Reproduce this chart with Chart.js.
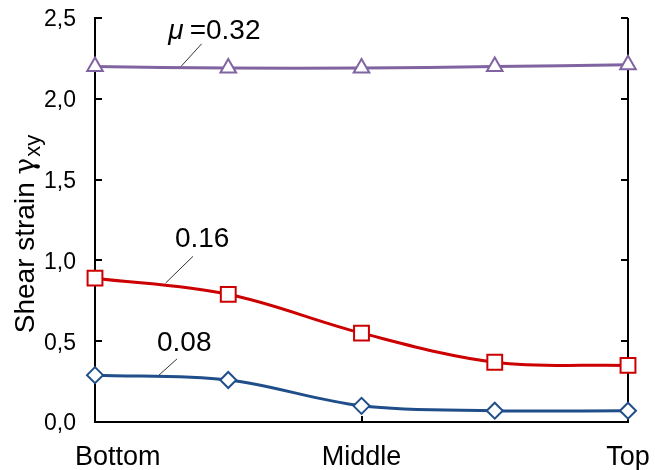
<!DOCTYPE html>
<html>
<head>
<meta charset="utf-8">
<script src="https://cdn.jsdelivr.net/npm/chart.js@4.4.1/dist/chart.umd.min.js"></script>
<style>
html, body { margin: 0; padding: 0; background: #fff; }
</style>
</head>
<body>
<canvas id="chartCortante" width="655" height="470"></canvas>
<script>
// datos
const posiciones = ['Bottom', '', 'Middle', '', 'Top']
const mu032 = [2.20, 2.19, 2.19, 2.20, 2.21]
const mu016 = [0.89, 0.79, 0.55, 0.37, 0.35]
const mu008 = [0.29, 0.26, 0.10, 0.07, 0.07]
const ticksY = [0, 0.5, 1.0, 1.5, 2.0, 2.5]
const etiquetas = ['\u03bc', '0.32', '0.16', '0.08']

const FUENTE = "'Liberation Sans', Arial, sans-serif"

// donde van los rotulos de cada serie (en unidades de los ejes)
const notas = [
    { texto: '=' + etiquetas[1], prefijo: etiquetas[0], x: 0.55, y: 2.37, linea: [0.64, 2.195, 0.80, 2.34] },
    { texto: etiquetas[2], x: 0.60, y: 1.08, linea: [0.53, 0.86, 0.735, 1.025] },
    { texto: etiquetas[3], x: 0.465, y: 0.44, linea: [0.48, 0.29, 0.615, 0.39] }
]

const ejesYMarcas = {
    id: 'ejesYMarcas',
    beforeDatasetsDraw(chart) {
        const { ctx, chartArea, scales } = chart
        ctx.save()
        ctx.strokeStyle = '#000'
        ctx.lineWidth = 2
        // eje derecho
        ctx.beginPath()
        ctx.moveTo(chartArea.right, chartArea.top)
        ctx.lineTo(chartArea.right, chartArea.bottom)
        ctx.stroke()
        // marcas hacia adentro
        ticksY.forEach(v => {
            const y = Math.round(scales.y.getPixelForValue(v))
            ctx.beginPath()
            ctx.moveTo(chartArea.left, y)
            ctx.lineTo(chartArea.left + 7, y)
            ctx.moveTo(chartArea.right, y)
            ctx.lineTo(chartArea.right - 7, y)
            ctx.stroke()
        })
        posiciones.forEach((p, i) => {
            if (!p) return
            const x = Math.round(scales.x.getPixelForValue(i))
            ctx.beginPath()
            ctx.moveTo(x, chartArea.bottom)
            ctx.lineTo(x, chartArea.bottom - 6)
            ctx.stroke()
        })
        // lineas guia de los rotulos
        ctx.strokeStyle = '#333'
        ctx.lineWidth = 1
        notas.forEach(n => {
            ctx.beginPath()
            ctx.moveTo(scales.x.getPixelForValue(n.linea[0]), scales.y.getPixelForValue(n.linea[1]))
            ctx.lineTo(scales.x.getPixelForValue(n.linea[2]), scales.y.getPixelForValue(n.linea[3]))
            ctx.stroke()
        })
        ctx.restore()
    },
    afterDraw(chart) {
        const { ctx, chartArea, scales } = chart
        ctx.save()
        ctx.fillStyle = '#000'

        // etiquetas del eje y
        ctx.font = '23px ' + FUENTE
        ctx.textAlign = 'right'
        ctx.textBaseline = 'middle'
        ticksY.forEach(v => {
            const y = scales.y.getPixelForValue(v)
            ctx.fillText(v.toFixed(1).replace('.', ','), chartArea.left - 19, y + 2)
        })

        ctx.textBaseline = 'alphabetic'
        // etiquetas del eje x
        ctx.font = '27px ' + FUENTE
        posiciones.forEach((p, i) => {
            if (!p) return
            const w = ctx.measureText(p).width
            let x = scales.x.getPixelForValue(i) - w / 2
            if (x < 75) x = 75
            if (x + w > 654) x = 654 - w
            ctx.textAlign = 'left'
            ctx.fillText(p, x, 465)
        })

        // rotulos de las series
        notas.forEach(n => {
            let x = scales.x.getPixelForValue(n.x)
            const y = scales.y.getPixelForValue(n.y)
            ctx.textAlign = 'left'
            if (n.prefijo) {
                ctx.font = 'italic 28px ' + FUENTE
                ctx.fillText(n.prefijo, x, y)
                x += ctx.measureText(n.prefijo).width + 6
            }
            ctx.font = '28px ' + FUENTE
            ctx.fillText(n.texto, x, y)
        })

        // titulo del eje y con subindice
        const titulo = 'Shear strain '
        const gamma = '\u03b3'
        const sub = 'xy'
        ctx.font = '28px ' + FUENTE
        const w1 = ctx.measureText(titulo).width
        ctx.font = "28px 'DejaVu Serif', serif"
        const wg = ctx.measureText(gamma).width
        ctx.font = '22px ' + FUENTE
        const w2 = ctx.measureText(sub).width
        ctx.translate(34, 234)
        ctx.rotate(-Math.PI / 2)
        ctx.textAlign = 'left'
        const x0 = -(w1 + wg + w2 + 1) / 2
        ctx.font = '28px ' + FUENTE
        ctx.fillText(titulo, x0, 0)
        ctx.font = "28px 'DejaVu Serif', serif"
        ctx.fillText(gamma, x0 + w1, 0)
        ctx.font = '22px ' + FUENTE
        ctx.fillText(sub, x0 + w1 + wg + 1, 6)
        ctx.restore()
    }
}

const canvas = document.getElementById('chartCortante')
const context = canvas.getContext('2d')

const chartCortante = new Chart(context, {
    type: 'line',
    data: {
        labels: posiciones,
        datasets: [
            {
                label: '0.32',
                data: mu032,
                borderColor: '#8064a2',
                backgroundColor: '#fff',
                pointStyle: 'triangle',
                pointRadius: 9,
                pointBorderWidth: 2,
                borderWidth: 3,
                tension: 0.35,
                clip: false
            },
            {
                label: '0.16',
                data: mu016,
                borderColor: '#cc0000',
                backgroundColor: '#fff',
                pointStyle: 'rect',
                pointRadius: 10.5,
                pointBorderWidth: 2,
                borderWidth: 3,
                tension: 0.35,
                clip: false
            },
            {
                label: '0.08',
                data: mu008,
                borderColor: '#1f4e8a',
                backgroundColor: '#fff',
                pointStyle: 'rectRot',
                pointRadius: 8,
                pointBorderWidth: 2,
                borderWidth: 3,
                tension: 0.35,
                clip: false
            }
        ]
    },
    options: {
        responsive: false,
        animation: false,
        devicePixelRatio: 1,
        layout: { padding: { top: 18, right: 27, left: 0, bottom: 0 } },
        plugins: {
            legend: { display: false },
            tooltip: { enabled: false }
        },
        scales: {
            x: {
                offset: false,
                grid: { display: false, drawTicks: false },
                border: { display: true, color: '#000', width: 2 },
                ticks: { display: false },
                afterFit: s => { s.height = 48 }
            },
            y: {
                min: 0,
                max: 2.5,
                grid: { display: false, drawTicks: false },
                border: { display: true, color: '#000', width: 2 },
                ticks: { display: false },
                afterFit: s => { s.width = 95 }
            }
        }
    },
    plugins: [ejesYMarcas]
})
</script>
</body>
</html>
